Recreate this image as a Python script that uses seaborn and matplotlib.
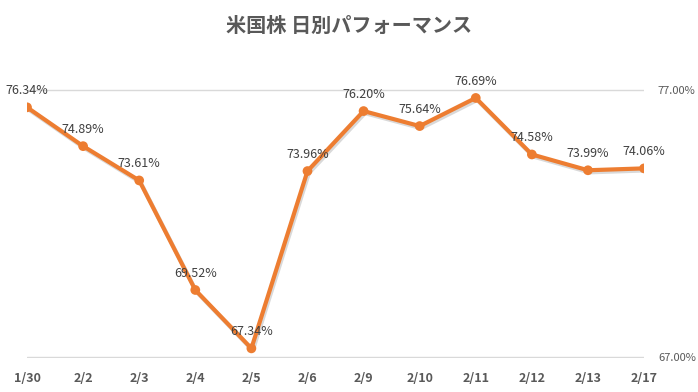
import matplotlib
matplotlib.use("Agg")
import matplotlib.pyplot as plt
import matplotlib.patheffects as pe
import seaborn as sns
import pandas as pd

# chart data
dates = ["1/30", "2/2", "2/3", "2/4", "2/5", "2/6", "2/9", "2/10", "2/11", "2/12", "2/13", "2/17"]
performance = [76.34, 74.89, 73.61, 69.52, 67.34, 73.96, 76.20, 75.64, 76.69, 74.58, 73.99, 74.06]
y_ticks = [67.0, 77.0]
title = "米国株 日別パフォーマンス"

sns.set_style("white")
plt.rcParams['font.family'] = ['Noto Sans CJK JP', 'DejaVu Sans']

df = pd.DataFrame({"date": dates, "perf": performance})

fig = plt.figure(figsize=(6.98, 3.92), dpi=100)
ax = fig.add_axes([0.0387, 0.0867, 0.884, 0.686])

line_color = "#ED7D31"
sns.lineplot(data=df, x="date", y="perf", ax=ax, color=line_color, linewidth=3,
             marker="o", markersize=7, markeredgewidth=0, sort=False,
             path_effects=[pe.SimpleLineShadow(offset=(1, -1.5), alpha=0.15), pe.Normal()])

for i, v in enumerate(performance):
    ax.annotate(f"{v:.2f}%", (i, v), xytext=(0, 12), textcoords="offset points",
                ha="center", va="center", fontsize=9, color="#404040")

ax.set_xlim(0, len(dates) - 1)
ax.set_ylim(y_ticks[0] - 0.02, y_ticks[-1] + 0.02)
ax.set_yticks(y_ticks)
ax.set_yticklabels([f"{t:.2f}%" for t in y_ticks], fontsize=8, color="#595959")
ax.yaxis.tick_right()
ax.tick_params(axis="y", length=0, pad=10)
ax.tick_params(axis="x", length=0, pad=10)
for lbl in ax.get_xticklabels():
    lbl.set_fontweight("bold")
    lbl.set_fontsize(9)
    lbl.set_color("#595959")

ax.grid(axis="y", color="#D9D9D9", linewidth=1)
ax.grid(axis="x", visible=False)
ax.set_axisbelow(True)
for s in ax.spines.values():
    s.set_visible(False)
ax.set_xlabel("")
ax.set_ylabel("")

fig.text(0.5, 0.935, title, ha="center", va="center", fontsize=14.5,
         fontweight="bold", color="#595959")

fig.savefig("out.png", dpi=100)
